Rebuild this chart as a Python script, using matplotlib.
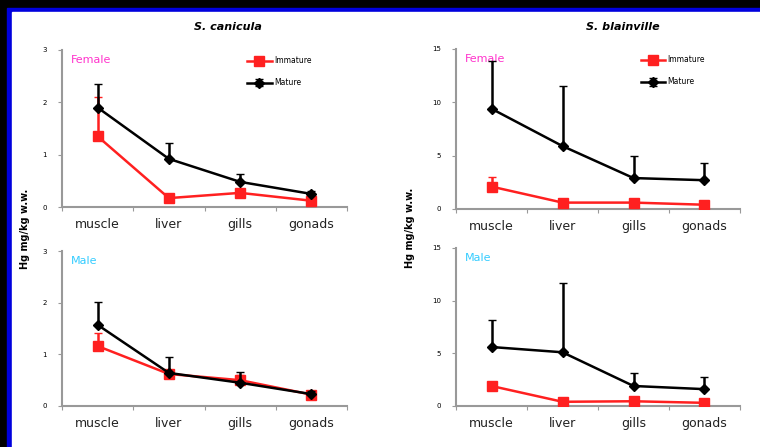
import matplotlib
matplotlib.use("Agg")
import matplotlib.pyplot as plt
import numpy as np
from matplotlib.patches import Rectangle

organs = ["muscle", "liver", "gills", "gonads"]

# S. canicula, female
can_f_imm = [1.35, 0.17, 0.27, 0.12]
can_f_imm_err = [0.75, 0.0, 0.0, 0.0]
can_f_mat = [1.9, 0.92, 0.48, 0.25]
can_f_mat_err = [0.45, 0.3, 0.15, 0.06]
# S. canicula, male
can_m_imm = [1.16, 0.62, 0.5, 0.22]
can_m_imm_err = [0.25, 0.0, 0.1, 0.0]
can_m_mat = [1.57, 0.64, 0.45, 0.23]
can_m_mat_err = [0.45, 0.3, 0.2, 0.06]

# S. blainville, female
bla_f_imm = [2.1, 0.6, 0.6, 0.4]
bla_f_imm_err = [0.9, 0.0, 0.0, 0.0]
bla_f_mat = [9.4, 5.9, 2.9, 2.7]
bla_f_mat_err = [4.5, 5.6, 2.1, 1.6]
# S. blainville, male
bla_m_imm = [1.9, 0.4, 0.45, 0.3]
bla_m_imm_err = [0.0, 0.0, 0.0, 0.0]
bla_m_mat = [5.6, 5.1, 1.9, 1.6]
bla_m_mat_err = [2.6, 6.6, 1.2, 1.2]

W, H = 760, 447
fig = plt.figure(figsize=(7.6, 4.47), dpi=100, facecolor="black")
fig.add_artist(Rectangle((7/W, 0), 1, (H-8)/H, transform=fig.transFigure, color="#0000dd", zorder=-2))
fig.add_artist(Rectangle((12/W, 0), 1, (H-12)/H, transform=fig.transFigure, color="white", zorder=-1))

def px_axes(x0, x1, ytop, ybot):
    ax = fig.add_axes([x0/W, (H-ybot)/H, (x1-x0)/W, (ybot-ytop)/H])
    ax.patch.set_alpha(0)
    return ax

def panel(ax, imm, imm_err, mat, mat_err, ymax, sex, sexcol, legend):
    x = np.arange(len(organs)) + 0.5
    ax.errorbar(x, imm, yerr=[np.zeros(4), imm_err], color="#ff2020", lw=1.8,
                marker="s", ms=7, capsize=3, elinewidth=1.8, label="Immature", zorder=3)
    ax.errorbar(x, mat, yerr=[np.zeros(4), mat_err], color="black", lw=1.8,
                marker="D", ms=5, capsize=3, elinewidth=1.8, label="Mature", zorder=4)
    ax.set_xlim(0, 4)
    ax.set_ylim(0, ymax)
    ax.set_yticks(np.linspace(0, ymax, 4))
    ax.set_yticklabels([f"{v:g}" for v in np.linspace(0, ymax, 4)], fontsize=5)
    ax.set_xticks([0, 1, 2, 3, 4])
    ax.set_xticklabels([])
    ax.set_xticks(x, minor=True)
    ax.set_xticklabels(organs, minor=True, fontsize=9, color="#222222")
    ax.tick_params(axis="x", which="minor", length=0, pad=8)
    ax.tick_params(axis="x", which="major", length=3, color="#999999")
    ax.tick_params(axis="y", length=3, color="#999999", pad=8)
    for s in ["top", "right"]:
        ax.spines[s].set_visible(False)
    for s in ["left", "bottom"]:
        ax.spines[s].set_color("#999999")
        ax.spines[s].set_linewidth(1.5)
    ax.text(0.03, 0.97, sex, transform=ax.transAxes, color=sexcol, fontsize=8, va="top")
    if legend:
        ax.legend(loc="upper left", frameon=False, fontsize=5.5, handlelength=3.2,
                  handletextpad=0.3, borderpad=0, borderaxespad=0,
                  bbox_to_anchor=(0.65, 0.96), labelspacing=1.7)

ax1 = px_axes(62, 347, 50, 207)
panel(ax1, can_f_imm, can_f_imm_err, can_f_mat, can_f_mat_err, 3, "Female", "#ff33cc", True)
ax2 = px_axes(62, 347, 251, 406)
panel(ax2, can_m_imm, can_m_imm_err, can_m_mat, can_m_mat_err, 3, "Male", "#33ccff", False)
ax3 = px_axes(456, 740, 49, 209)
panel(ax3, bla_f_imm, bla_f_imm_err, bla_f_mat, bla_f_mat_err, 15, "Female", "#ff33cc", True)
ax4 = px_axes(456, 740, 248, 406)
panel(ax4, bla_m_imm, bla_m_imm_err, bla_m_mat, bla_m_mat_err, 15, "Male", "#33ccff", False)

fig.text(228/W, (H-27)/H, "S. canicula", fontsize=8, fontweight="bold", style="italic", ha="center", va="center")
fig.text(623/W, (H-27)/H, "S. blainville", fontsize=8, fontweight="bold", style="italic", ha="center", va="center")
fig.text(25/W, (H-229)/H, "Hg mg/kg w.w.", fontsize=7, fontweight="bold", rotation=90, ha="center", va="center")
fig.text(410/W, (H-228)/H, "Hg mg/kg w.w.", fontsize=7, fontweight="bold", rotation=90, ha="center", va="center")

fig.savefig("out.png", dpi=100, facecolor=fig.get_facecolor())
